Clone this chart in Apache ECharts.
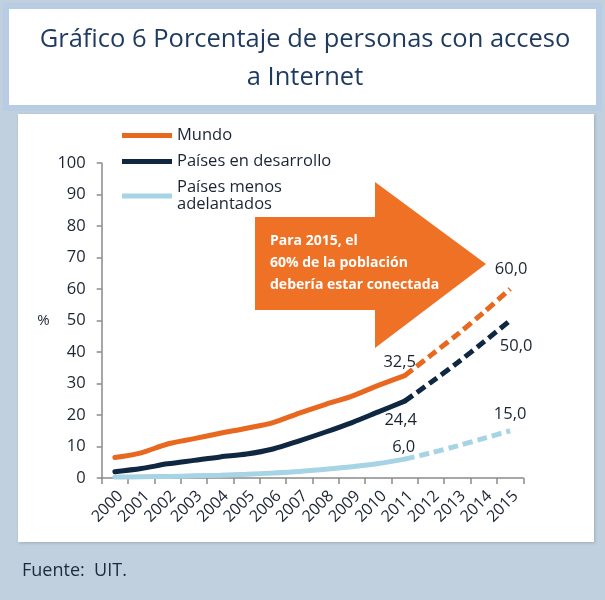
<!DOCTYPE html>
<html>
<head>
<meta charset="utf-8">
<script src="https://cdn.jsdelivr.net/npm/echarts@6/dist/echarts.min.js"></script>
<style>
  html, body { margin: 0; padding: 0; background: #c1d0de; }
  #main { width: 605px; height: 600px; }
</style>
</head>
<body>
<div id="main"></div>
<script>
// data
const years = ['2000', '2001', '2002', '2003', '2004', '2005', '2006', '2007',
  '2008', '2009', '2010', '2011', '2012', '2013', '2014', '2015']
const mundo = [6.5, 8.0, 10.8, 12.5, 14.2, 15.8, 17.6, 20.6, 23.4, 26.0, 29.4, 32.5, 39.0, 45.6, 52.6, 60.0]
const desarrollo = [2.0, 3.0, 4.5, 5.6, 6.7, 7.6, 9.2, 11.8, 14.6, 17.6, 21.0, 24.4, 30.4, 36.6, 43.2, 50.0]
const menosAdelantados = [0.3, 0.4, 0.5, 0.7, 0.9, 1.2, 1.6, 2.1, 2.8, 3.6, 4.6, 6.0, 8.0, 10.2, 12.6, 15.0]
const lastReal = 11 // 2011: after this the lines are projections (dashed)
const yTicks = { min: 0, max: 100, interval: 10 }

const names = ['Mundo', 'Países en desarrollo', 'Países menos adelantados']
const colors = ['#e8681f', '#0f2740', '#a6d4e4']
// label placement per series: [at 2011, at 2015]
const labelPos = [
  [{ position: 'top', offset: [-5, 0] }, { position: 'top', offset: [1, -6] }],
  [{ position: 'bottom', offset: [-4, 6] }, { position: 'bottom', offset: [6, 12] }],
  [{ position: 'top', offset: [-1, 2] }, { position: 'top', offset: [0, -3] }]
]

const font = "'Open Sans', 'Noto Sans', sans-serif"
const txt = '#1c2433'

function fmt(v) {
  return v.toFixed(1).replace('.', ',')
}

function part(values, from, to, labelAt, lab) {
  return values.map((v, i) => {
    if (i < from || i > to) return null
    if (i === labelAt) {
      return {
        value: v,
        label: Object.assign({ show: true, formatter: p => fmt(p.value) }, lab)
      }
    }
    return v
  })
}

const allValues = [mundo, desarrollo, menosAdelantados]
const series = []
allValues.forEach((vals, k) => {
  const base = {
    name: names[k],
    type: 'line',
    smooth: 0.3,
    showSymbol: true,
    symbol: 'circle',
    symbolSize: 0,
    color: colors[k],
    itemStyle: { color: colors[k] },
    label: { fontSize: 16.5, color: txt, fontFamily: font },
    z: 5 - k
  }
  series.push(Object.assign({}, base, {
    data: part(vals, 0, lastReal, lastReal, labelPos[k][0]),
    lineStyle: { width: 5, color: colors[k], cap: 'round' }
  }))
  series.push(Object.assign({}, base, {
    data: part(vals, lastReal, vals.length - 1, vals.length - 1, labelPos[k][1]),
    lineStyle: { width: 5, color: colors[k], type: [10, 5] }
  }))
})

const chart = echarts.init(document.getElementById('main'))

const option = {
  backgroundColor: '#c1d0de',
  animation: false,
  textStyle: { fontFamily: font },
  grid: { left: 101.7, right: 81.7, top: 163, bottom: 122 },
  legend: {
    orient: 'vertical',
    left: 117,
    top: 122,
    itemWidth: 50,
    itemHeight: 5,
    itemGap: 9,
    icon: 'rect',
    selectedMode: false,
    textStyle: { fontSize: 16.5, color: txt, lineHeight: 17, fontFamily: font },
    data: [
      { name: names[0] },
      { name: names[1] },
      { name: names[2], textStyle: { height: 17 } }
    ],
    formatter: n => n === names[2] ? 'Países menos\nadelantados' : n
  },
  xAxis: {
    type: 'category',
    data: years,
    boundaryGap: true,
    axisLine: { lineStyle: { color: '#8a8a8a', width: 1.5 } },
    axisTick: { show: true, length: 6, lineStyle: { color: '#8a8a8a', width: 1.5 } },
    axisLabel: { rotate: 45, interval: 0, fontSize: 16, color: txt, margin: 10, verticalAlign: 'top' },
    splitLine: { show: false }
  },
  yAxis: {
    type: 'value',
    min: yTicks.min,
    max: yTicks.max,
    interval: yTicks.interval,
    name: '%',
    nameLocation: 'middle',
    nameRotate: 0,
    nameGap: 52,
    nameTextStyle: { fontSize: 15, color: txt },
    axisLine: { show: true, lineStyle: { color: '#8a8a8a', width: 1.5 } },
    axisTick: { show: true, length: 5, lineStyle: { color: '#8a8a8a', width: 1.5 } },
    axisLabel: { fontSize: 16.5, color: txt, margin: 16 },
    splitLine: { show: false }
  },
  graphic: [
    // title box
    {
      type: 'rect', z: -10,
      shape: { x: 6, y: 6, width: 593, height: 102 },
      style: { fill: '#ffffff', stroke: '#b8cce4', lineWidth: 6 }
    },
    {
      type: 'text', z: -9,
      x: 305, y: 21,
      style: {
        text: 'Gráfico 6 Porcentaje de personas con acceso\na Internet',
        fill: '#1f3a5f', font: "25.5px 'Open Sans', sans-serif",
        lineHeight: 38, align: 'center', verticalAlign: 'top'
      }
    },
    // chart panel
    {
      type: 'rect', z: -10,
      shape: { x: 18, y: 114, width: 576, height: 428 },
      style: { fill: '#ffffff', shadowBlur: 3, shadowColor: 'rgba(0,0,0,0.18)', shadowOffsetX: 1, shadowOffsetY: 1 }
    },
    // arrow annotation
    {
      type: 'polygon', z: 1,
      shape: { points: [[255, 217], [375, 217], [375, 182], [486, 264], [375, 348], [375, 310], [255, 310]] },
      style: { fill: '#ef7125' }
    },
    {
      type: 'text', z: 2,
      left: 270, top: 230,
      style: {
        text: 'Para 2015, el\n60% de la población\ndebería estar conectada',
        fill: '#ffffff', font: "bold 14px 'Open Sans', sans-serif", lineHeight: 22
      }
    },
    // source
    {
      type: 'text',
      left: 22, top: 562,
      style: { text: 'Fuente:  UIT.', fill: '#1c2a3d', font: "18px 'Open Sans', sans-serif" }
    }
  ],
  series: series
}

chart.setOption(option)
</script>
</body>
</html>
